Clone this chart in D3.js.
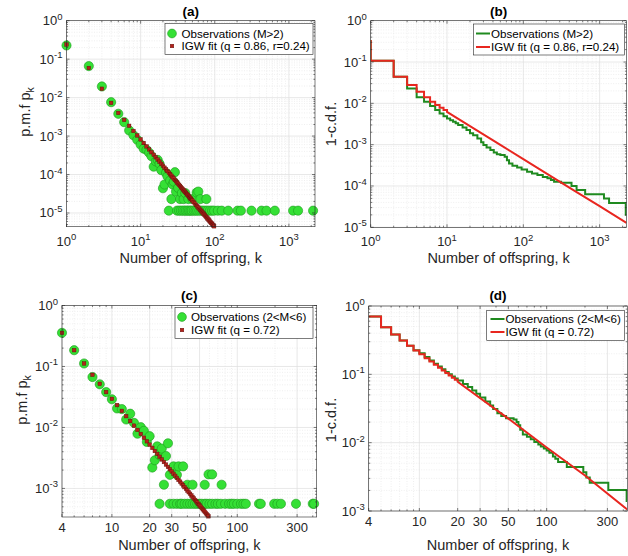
<!DOCTYPE html>
<html><head><meta charset="utf-8">
<script src="https://cdn.jsdelivr.net/npm/d3@7"></script>
<style>
body{margin:0;background:#fff;}
svg{font-family:"Liberation Sans",Arial,Helvetica,sans-serif;}
</style></head><body>
<svg id="fig" width="628" height="556"></svg>
<script>
// ---- (a) pmf, M>2 ----
const obsA_k = [1,2,3,4,5,6,7,8,9,10,11,12,13,14,15,16,17,18,19,20,21,22,23,25,26,27,28,29,30,32,34,36,38,40,44,50,57,60,64,77];
const obsA_p = [0.227,0.066,0.0195,0.0076,0.0038,0.0023,0.0014,0.00105,0.0008,0.0006,0.00047,0.00044,0.00037,0.0003,0.00016,0.00022,0.00024,0.00019,0.00013,4.4e-5,5.5e-5,0.00011,9e-5,7e-5,2.3e-5,5.5e-5,6.5e-5,0.000115,3.6e-5,4.5e-5,2.3e-5,3.3e-5,2.3e-5,3.3e-5,2.3e-5,2.3e-5,3.4e-5,3.6e-5,2.3e-5,2.3e-5];
const singleA_k = [24,31,33,35,37,39,41,43,45,47,49,52,55,58,62,66,70,75,80,86,92,98,110,124,152,203,225,313,428,499,646,1140,1330,2120];
const singleA_p = 1.15e-5;
const fitA_k = [1,2,3,4,5,6,7,8,9,10,11,12,13,14,15,16,17,18,19,20,21,22,23,24,25,26,27,28,29,30,31,32,33,34,35,36,37,38,39,40,41,42,43,44,45,46,47,48,49,50,52,54,56,58,60,62,64,66,68,70,72,74,76,78,80,82,84,86,88,90,92,94,96,98,100];
const fitA_p = [0.24,0.059,0.017,0.0073,0.0040,0.00263,0.00185,0.00136,0.00104,0.00082,0.00066,0.00054,0.00045,0.00038,0.000326,0.000281,0.000245,0.000215,0.00019,0.000169,0.000151,0.000136,0.000123,0.000112,0.000102,9.3e-5,8.5e-5,7.85e-5,7.2e-5,6.7e-5,6.2e-5,5.8e-5,5.4e-5,5.05e-5,4.72e-5,4.43e-5,4.16e-5,3.91e-5,3.69e-5,3.48e-5,3.28e-5,3.12e-5,2.96e-5,2.81e-5,2.66e-5,2.52e-5,2.41e-5,2.30e-5,2.19e-5,2.09e-5,1.91e-5,1.75e-5,1.61e-5,1.49e-5,1.38e-5,1.28e-5,1.19e-5,1.11e-5,1.04e-5,9.7e-6,9.1e-6,8.55e-6,8.05e-6,7.59e-6,7.16e-6,6.78e-6,6.41e-6,6.07e-6,5.77e-6,5.48e-6,5.21e-6,4.96e-6,4.72e-6,4.51e-6,4.3e-6];

// ---- (b) 1-cdf, M>2 ----
const obsB_k = [1,1,2,3,4,5,6,7,8,9,10,11,12,13,14,16,18,20,22,25,28,30,33,37,41,45,50,57,61,65,72,83,95,112,130,153,180,207,230,253,313,428,499,646,1140,1330,2200,2250];
const obsB_v = [0.34,0.107,0.044,0.023,0.014,0.011,0.0086,0.0069,0.0057,0.0049,0.0043,0.0039,0.0036,0.0033,0.0030,0.0026,0.00225,0.0019,0.0017,0.0014,0.00115,0.00098,0.00085,0.00074,0.00065,0.00059,0.00056,0.00051,0.00042,0.00035,0.00031,0.00028,0.00025,0.00022,0.0002,0.000184,0.000165,0.000153,0.00014,0.000126,0.00012,0.0001,8.0e-5,6.3e-5,5.0e-5,3.9e-5,2.0e-5,2.0e-5];
const fitB_k = [1,1,2,3,4,5,6,7,8,9,10];
const fitB_v = [0.34,0.107,0.044,0.0277,0.019,0.014,0.011,0.0091,0.0078,0.0069,0.0062];
const fitBtail_k = [10,20,50,100,200,500,1000,2250];
const fitBtail_v = [0.0062,0.0028,0.000984,0.000447,0.000203,7.13e-5,3.24e-5,1.28e-5];

// ---- (c) pmf, 2<M<6 ----
const obsC_k = [4,5,6,7,8,9,10,11,12,13,14,15,16,17,18,19,20,21,22,23,24,25,26,27,28,29,31,33,34,37,40,44,55,59,63,75];
const obsC_p = [0.356,0.185,0.112,0.067,0.051,0.038,0.029,0.0205,0.020,0.0135,0.0168,0.0119,0.0079,0.0101,0.0088,0.0058,0.0072,0.0022,0.0029,0.0049,0.0035,0.0045,0.00115,0.0034,0.0055,0.00167,0.0023,0.00167,0.0023,0.0023,0.00115,0.00115,0.00115,0.0017,0.0017,0.00115];
const singleC_k = [24,29,31,33,35,36,38,40,42,44,46,48,50,52,55,57,60,63,67,70,74,80,86,90,94,100,107,112,117,149,154,197,209,223,294,400,410];
const singleC_p = 5.6e-4;
const fitC_k = [4,5,6,7,8,9,10,11,12,13,14,15,16,17,18,19,20,21,22,23,24,25,26,27,28,29,30,31,32,33,34,35,36,37,38,39,40,41,42,43,44,45,46,47,48,49,50,51,52,53,54,55,56,57,58,59,60];
const fitC_p = [0.356,0.185,0.112,0.073,0.052,0.038,0.0295,0.02325,0.0187,0.01532,0.01273,0.01071,0.00912,0.00783,0.00679,0.00593,0.00522,0.00462,0.00411,0.00368,0.00331,0.00299,0.00271,0.00246,0.00225,0.00206,0.00189,0.00174,0.00161,0.00149,0.00138,0.00129,0.0012,0.00112,0.00105,0.000982,0.000922,0.000867,0.000817,0.000769,0.000726,0.000687,0.00065,0.000616,0.000585,0.000555,0.000528,0.000502,0.000479,0.000456,0.000436,0.000416,0.000398,0.00038,0.000364,0.000349,0.000335];

// ---- (d) 1-cdf, 2<M<6 ----
const obsD_k = [4,5,6,7,8,9,10,11,12,13,14,15,16,17,18,19,20,22,24,26,28,30,33,36,38,41,44,48,55,58,60,62,65,70,75,80,86,90,95,100,105,112,117,123,144,194,205,218,305,425,430];
const obsD_v = [0.70,0.49,0.383,0.312,0.263,0.226,0.203,0.180,0.160,0.143,0.130,0.119,0.108,0.100,0.093,0.087,0.081,0.072,0.065,0.058,0.052,0.046,0.040,0.035,0.031,0.027,0.0245,0.0228,0.0218,0.020,0.018,0.0155,0.0132,0.0122,0.0112,0.0102,0.0094,0.0088,0.0082,0.0077,0.0071,0.0063,0.0058,0.0052,0.0044,0.0037,0.0031,0.0026,0.00203,0.0014,0.0014];
const fitD_k = [4,5,6,7,8,9,10,11,12,13,14,15,16,17,18,19,20];
const fitD_v = [0.70,0.49,0.383,0.312,0.263,0.224,0.196,0.1726,0.1535,0.138,0.125,0.114,0.1045,0.0964,0.0893,0.0831,0.0776];
const fitDtail_k = [20,50,100,200,430];
const fitDtail_v = [0.0776,0.0225,0.0085,0.0033,0.00105];

const pow10Ticks = [1e-5,1e-4,1e-3,1e-2,1e-1,1,10,100,1000];
const linTicksCD = [4,10,20,30,50,100,300];

const GREEN_DOT = "#35e035", GREEN_EDGE = "#1c9a1c";
const GREEN_LINE = "#1f8a1f", RED_LINE = "#e8261f";
const RED_SQ = "#b3221b", RED_SQ_EDGE = "#5c0e0a";

const svg = d3.select("#fig");

function logMinor([a, b]) {
  const out = [];
  for (let e = Math.floor(Math.log10(a)); e <= Math.ceil(Math.log10(b)); e++)
    for (let m = 1; m < 10; m++) {
      const v = +(m * Math.pow(10, e)).toPrecision(6);
      if (v >= a * 1.0001 && v <= b / 1.0001) out.push(v);
    }
  return out;
}
const near = (arr, v) => arr.some(t => Math.abs(Math.log10(t) - Math.log10(v)) < 1e-6);
const expOf = v => String(Math.round(Math.log10(v)));

function powText(sel, v) {
  sel.append("tspan").text("10");
  sel.append("tspan").attr("dy", -5.5).attr("font-size", 9.5).text(expOf(v));
}

function panel(o) {
  const x = d3.scaleLog().domain(o.xd).range([o.L, o.R]);
  const y = d3.scaleLog().domain(o.yd).range([o.B, o.T]);
  const g = svg.append("g");
  const clipId = "clip-" + o.name;
  svg.append("clipPath").attr("id", clipId).append("rect")
    .attr("x", o.L).attr("y", o.T).attr("width", o.R - o.L).attr("height", o.B - o.T);

  const xt = o.xt.filter(v => v >= o.xd[0] * 0.9999 && v <= o.xd[1]);
  const yt = pow10Ticks.filter(v => v >= o.yd[0] * 0.9999 && v <= o.yd[1] * 1.0001);
  const xm = logMinor(o.xd).filter(v => !near(xt, v));
  const ym = logMinor(o.yd).filter(v => !near(yt, v));

  // grid
  const grid = g.append("g");
  grid.selectAll(".mx").data(xm).join("line")
    .attr("x1", d => x(d)).attr("x2", d => x(d)).attr("y1", o.T).attr("y2", o.B)
    .attr("stroke", "#e4e4e4").attr("stroke-width", 0.6).attr("stroke-dasharray", "1,1.5");
  grid.selectAll(".my").data(ym).join("line")
    .attr("y1", d => y(d)).attr("y2", d => y(d)).attr("x1", o.L).attr("x2", o.R)
    .attr("stroke", "#e4e4e4").attr("stroke-width", 0.6).attr("stroke-dasharray", "1,1.5");
  grid.selectAll(".gx").data(xt).join("line")
    .attr("x1", d => x(d)).attr("x2", d => x(d)).attr("y1", o.T).attr("y2", o.B)
    .attr("stroke", "#dedede").attr("stroke-width", 0.7);
  grid.selectAll(".gy").data(yt).join("line")
    .attr("y1", d => y(d)).attr("y2", d => y(d)).attr("x1", o.L).attr("x2", o.R)
    .attr("stroke", "#dedede").attr("stroke-width", 0.7);

  // data
  const data = g.append("g");
  o.draw(data, x, y, clipId);

  // box + ticks
  const ax = g.append("g").attr("stroke", "#262626").attr("stroke-width", 0.6);
  ax.append("rect").attr("x", o.L).attr("y", o.T).attr("width", o.R - o.L).attr("height", o.B - o.T).attr("fill", "none");
  const tk = (vals, len) => {
    vals.forEach(v => {
      const xx = x(v);
      ax.append("line").attr("x1", xx).attr("x2", xx).attr("y1", o.B).attr("y2", o.B - len);
      ax.append("line").attr("x1", xx).attr("x2", xx).attr("y1", o.T).attr("y2", o.T + len);
    });
  };
  const tky = (vals, len) => {
    vals.forEach(v => {
      const yy = y(v);
      ax.append("line").attr("y1", yy).attr("y2", yy).attr("x1", o.L).attr("x2", o.L + len);
      ax.append("line").attr("y1", yy).attr("y2", yy).attr("x1", o.R).attr("x2", o.R - len);
    });
  };
  tk(xt, 3); tk(xm, 1.6); tky(yt, 3); tky(ym, 1.6);

  // tick labels
  const lab = g.append("g").attr("fill", "#262626").attr("font-size", 13);
  xt.forEach(v => {
    const t = lab.append("text").attr("x", x(v)).attr("y", o.xtickY).attr("text-anchor", "middle");
    if (o.xpow) powText(t, v); else t.text(v);
  });
  yt.forEach(v => {
    const t = lab.append("text").attr("x", o.L - 4).attr("y", y(v) + 4.5).attr("text-anchor", "end");
    powText(t, v);
  });

  // axis labels and title
  lab.append("text").attr("x", (o.L + o.R) / 2).attr("y", o.xlabY).attr("text-anchor", "middle")
    .attr("font-size", 14.5).text("Number of offspring, k");
  const yl = lab.append("text").attr("text-anchor", "middle").attr("font-size", 14.5)
    .attr("transform", `translate(${o.ylabX},${o.ylabY}) rotate(-90)`);
  if (o.pmf) {
    yl.append("tspan").text("p.m.f p");
    yl.append("tspan").attr("dy", 3.5).attr("font-size", 10.5).text("k");
  } else yl.text("1-c.d.f.");
  lab.append("text").attr("x", (o.L + o.R) / 2).attr("y", o.titleY).attr("text-anchor", "middle")
    .attr("font-size", 13.5).attr("font-weight", "bold").attr("fill", "#000").text(o.title);

  // legend
  const lg = o.legend;
  const L = g.append("g");
  L.append("rect").attr("x", lg.x0).attr("y", lg.y0).attr("width", lg.x1 - lg.x0).attr("height", lg.y1 - lg.y0)
    .attr("fill", "#fff").attr("stroke", "#262626").attr("stroke-width", 0.6);
  lg.rows.forEach(r => {
    if (r.sym === "dot") L.append("circle").attr("cx", lg.symX).attr("cy", r.y).attr("r", 4.4)
      .attr("fill", GREEN_DOT).attr("stroke", GREEN_EDGE).attr("stroke-width", 0.6);
    if (r.sym === "sq") L.append("rect").attr("x", lg.symX - 1.8).attr("y", r.y - 1.8).attr("width", 3.6).attr("height", 3.6)
      .attr("fill", RED_SQ).attr("stroke", RED_SQ_EDGE).attr("stroke-width", 0.4);
    if (r.sym === "g" || r.sym === "r") L.append("line").attr("x1", lg.symX - 7).attr("x2", lg.symX + 7)
      .attr("y1", r.y).attr("y2", r.y).attr("stroke", r.sym === "g" ? GREEN_LINE : RED_LINE).attr("stroke-width", 2);
    L.append("text").attr("x", lg.textX).attr("y", r.y + 4).attr("font-size", 11.6).attr("fill", "#000").text(r.text);
  });
}

function drawPmf(obsK, obsP, singleK, singleP, fitK, fitP) {
  return (g, x, y) => {
    const inY = v => v >= y.domain()[0] * 0.999 && v <= y.domain()[1];
    const pts = obsK.map((k, i) => [k, obsP[i]]).concat(singleK.map(k => [k, singleP]));
    g.selectAll("circle.obs").data(pts.filter(d => inY(d[1]))).join("circle")
      .attr("cx", d => x(d[0])).attr("cy", d => y(d[1])).attr("r", 4.6)
      .attr("fill", GREEN_DOT).attr("stroke", GREEN_EDGE).attr("stroke-width", 0.6);
    const fit = fitK.map((k, i) => [k, fitP[i]]).filter(d => inY(d[1]));
    g.selectAll("rect.fit").data(fit).join("rect")
      .attr("x", d => x(d[0]) - 1.8).attr("y", d => y(d[1]) - 1.8).attr("width", 3.6).attr("height", 3.6)
      .attr("fill", RED_SQ).attr("stroke", RED_SQ_EDGE).attr("stroke-width", 0.4);
  };
}

function stairPoints(ks, vs) {
  const out = [];
  ks.forEach((k, i) => {
    out.push([k, vs[i]]);
    if (i + 1 < ks.length) out.push([ks[i + 1], vs[i]]);
  });
  return out;
}

function drawCcdf(obsK, obsV, fitK, fitV, tailK, tailV) {
  return (g, x, y, clipId) => {
    const line = d3.line().x(d => x(d[0])).y(d => y(d[1]));
    const c = g.append("g").attr("clip-path", `url(#${clipId})`);
    c.append("path").attr("d", line(stairPoints(obsK, obsV)))
      .attr("fill", "none").attr("stroke", GREEN_LINE).attr("stroke-width", 2);
    const fitPts = stairPoints(fitK, fitV).concat(tailK.map((k, i) => [k, tailV[i]]));
    c.append("path").attr("d", line(fitPts))
      .attr("fill", "none").attr("stroke", RED_LINE).attr("stroke-width", 2);
  };
}

panel({
  name: "a", L: 66.5, R: 315, T: 20.7, B: 226.7, xd: [1, 2250], yd: [4.4e-6, 1],
  xt: [1, 10, 100, 1000], xpow: true, xtickY: 245.5, xlabY: 263, ylabX: 30, ylabY: 112, pmf: true,
  title: "(a)", titleY: 16,
  draw: drawPmf(obsA_k, obsA_p, singleA_k, singleA_p, fitA_k, fitA_p),
  legend: { x0: 165, x1: 313, y0: 23.5, y1: 54.5, symX: 172, textX: 181.5,
    rows: [{ y: 33.5, sym: "dot", text: "Observations (M>2)" }, { y: 46, sym: "sq", text: "IGW fit (q = 0.86, r=0.24)" }] }
});

panel({
  name: "b", L: 370.7, R: 626.5, T: 20.7, B: 227.3, xd: [1, 2250], yd: [1e-5, 1],
  xt: [1, 10, 100, 1000], xpow: true, xtickY: 246, xlabY: 263, ylabX: 336, ylabY: 124, pmf: false,
  title: "(b)", titleY: 16,
  draw: drawCcdf(obsB_k, obsB_v, fitB_k, fitB_v, fitBtail_k, fitBtail_v),
  legend: { x0: 473.5, x1: 624.5, y0: 24, y1: 55, symX: 483, textX: 491,
    rows: [{ y: 33.5, sym: "g", text: "Observations (M>2)" }, { y: 47, sym: "r", text: "IGW fit (q = 0.86, r=0.24)" }] }
});

panel({
  name: "c", L: 62, R: 316.7, T: 305.5, B: 517, xd: [4, 430], yd: [3.4e-4, 1],
  xt: linTicksCD, xpow: false, xtickY: 531.5, xlabY: 550, ylabX: 27, ylabY: 400, pmf: true,
  title: "(c)", titleY: 300,
  draw: drawPmf(obsC_k, obsC_p, singleC_k, singleC_p, fitC_k, fitC_p),
  legend: { x0: 175, x1: 313, y0: 307.5, y1: 338.5, symX: 182, textX: 191,
    rows: [{ y: 317, sym: "dot", text: "Observations (2<M<6)" }, { y: 330, sym: "sq", text: "IGW fit (q = 0.72)" }] }
});

panel({
  name: "d", L: 368.7, R: 627.3, T: 306, B: 511, xd: [4, 430], yd: [1e-3, 1],
  xt: linTicksCD, xpow: false, xtickY: 526, xlabY: 550, ylabX: 336, ylabY: 420, pmf: false,
  title: "(d)", titleY: 300,
  draw: drawCcdf(obsD_k, obsD_v, fitD_k, fitD_v, fitDtail_k, fitDtail_v),
  legend: { x0: 486.7, x1: 624.5, y0: 310.5, y1: 340.5, symX: 497.5, textX: 505.5,
    rows: [{ y: 319, sym: "g", text: "Observations (2<M<6)" }, { y: 332, sym: "r", text: "IGW fit (q = 0.72)" }] }
});
</script>
</body></html>
